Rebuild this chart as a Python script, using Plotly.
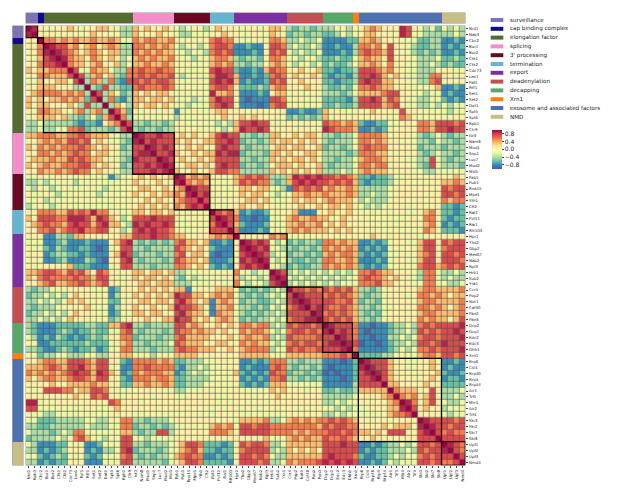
import sys
import plotly.graph_objects as go

genes = ["Nrd1","Nab3","Cbc2","Bur1","Bur2","Ctk1","Ctk2","Cdc73","Leo1","Paf1","Rtf1","Set1","Set2","Dot1",
         "Spt5","Spt6","Rpb1","Ctr9","Ist3","Nam8","Mud1","Snp1","Luc7","Mud2","Msl5","Pab1","Pub1","Rna15",
         "Mpe1","Yth1","Cft2","Rat1","Pcf11","Rai1","Rtt103","Hpr1","Tho2","Gbp2","Mex67","Nab2","Npl3","Hrb1",
         "Sub2","Yra1","Ccr4","Pop2","Not1","Caf40","Pan2","Pan3","Dcp2","Dcp1","Edc2","Edc3","Dhh1","Xrn1",
         "Rrp6","Csl4","Rrp40","Rrp4","Rrp44","Air1","Trf5","Mtr4","Air2","Trf4","Ski3","Ski2","Ski7","Ski8",
         "Upf1","Upf2","Upf3","Nmd4"]

groups = ["surveillance","cap binding complex","elongation factor","splicing","3' processing","termination",
          "export","deadenylation","decapping","Xrn1","exosome and associated factors","NMD"]
group_sizes = [2,1,15,7,6,4,9,6,5,1,14,4]
group_colors = ["#8172b3","#0b0b8c","#556b2f","#f48ec8","#6a0a22","#64b5cd",
                "#7b2fa0","#c44e52","#55a868","#ff7f0e","#4c72b0","#c9bd86"]

# correlation value of each colour level (0 = deep blue ... 9 = deep red)
level_values = [-0.92, -0.78, -0.6, -0.4, -0.15, 0.1, 0.35, 0.55, 0.75, 0.9]

# upper triangle (j > i), one level digit per cell
upper = [
"9 5 545565455665433 6565565 434543 5655 545545665 323323 33453 5 56765559854342 4343",
"5 554555456554533 6555655 433444 5565 544554655 233233 22343 4 56655459844333 3343",
"776767667667644 7677667 545455 7877 544545776 334334 11112 2 66765554442233 1121",
"98867567567633 7767676 434534 7887 112115887 343343 11211 3 77675855432233 1212",
"9876567656633 7676766 443443 7878 111215878 434334 11121 3 78776854432323 1121",
"976657656534 6767667 544344 6776 323325776 443443 22322 4 67665855543334 2232",
"76656755634 6676676 545445 6767 332335676 434434 23223 4 66765755443343 2322",
"8447664337 7877877 454454 8988 211216877 556556 22122 3 88876755443335 5545",
"836746327 7878778 434544 7998 611212787 565565 21221 3 88986565443377 5545",
"37637218 8787887 544454 8989 612112878 556555 22122 3 89886655443378 4545",
"3283322 7877787 445444 7887 522232677 555655 32232 4 77876655544456 1121",
"836423 6565665 454454 9667 511121566 454454 33323 4 66667885544344 1211",
"37213 6656656 444344 7988 510111887 445444 22221 3 88986875443344 2121",
"3653 6566565 443444 7898 511101788 454445 22322 3 88886785443343 4344",
"862 5455455 144544 5665 554554555 112112 64544 5 55655558555445 4344",
"73 4454454 344454 5565 565655545 232323 64554 5 54555457654454 4454",
"8 3323323 454454 4343 688988544 554554 87767 6 21122445557768 8878",
"3233233 545545 4434 698898545 545545 98777 6 11212455557768 8988",
"988988 565655 6898 833233665 565665 33233 4 77776555543234 3233",
"89888 656556 6889 823323656 656565 32333 4 77676554543324 3323",
"9898 556565 5898 832333566 566556 23323 4 78777555542333 2333",
"889 655656 6989 923332665 655665 33332 3 77766545553234 3323",
"98 565565 6888 833233656 566565 33233 4 67776555443384 3233",
"9 556656 5898 823323566 656556 32333 4 77677455543284 3332",
"655655 6887 733333656 565656 33343 4 67666555544334 4444",
"96767 4544 678787333 698989 88787 6 22122344555455 5565",
"7676 5445 687877323 689898 87878 6 21222345545455 6676",
"988 4544 566566443 187878 67667 6 33333455555555 8788",
"89 5454 565665434 466766 76667 6 33433455555455 8878",
"8 4545 556656444 565665 67666 5 34333455545555 7677",
"5445 565565544 556556 56656 5 43434555455455 2212",
"878 612112454 561115 56556 5 45445455445674 2212",
"98 711011445 676676 65565 5 54454544554775 2122",
"8 621112544 667667 56565 5 45544545455674 1212",
"711121454 676766 65656 5 54454454545765 2221",
"55455767 445445 55455 5 55655555554455 5555",
"9898434 232332 77676 6 11212455446885 8788",
"989443 323323 76767 6 12121454546885 7888",
"98344 233232 67677 6 21212445456785 8878",
"9434 322323 77667 6 11121455446885 8887",
"443 232233 76767 6 21212454547886 7878",
"98 343434 34343 4 77876655543774 3343",
"9 434343 43434 4 78776565443774 3433",
"343434 34344 4 77786655544774 4334",
"88787 87878 6 33234555556776 6667",
"9888 78787 6 32334555457767 6566",
"988 88778 6 23324555546776 6667",
"89 87787 6 33234455557767 6567",
"9 78787 6 32324555456776 6667",
"87878 6 33234555557676 6568",
"9888 7 11011233437878 8889",
"898 7 10111233438787 8898",
"98 7 11011334347887 8889",
"9 8 01101233438878 9888",
"7 11111234347787 8889",
"22223344446776 8878",
"9888655445565 1121",
"988655445565 1211",
"98655545556 2112",
"8655545565 1221",
"665555655 2222",
"76665585 3334",
"7675685 3343",
"975685 4334",
"85655 3444",
"5555 4344",
"988 8878",
"98 8788",
"8 7877",
"8888",
"987",
"87",
"8",
"",
]

n = len(genes)
M = [[1.0] * n for _ in range(n)]
for i, s in enumerate(upper):
    s = s.replace(" ", "")
    need = n - 1 - i
    if len(s) != need:
        print(f"row {i} has {len(s)} need {need}", file=sys.stderr)
        s = (s + "5" * need)[:need]
    for k, ch in enumerate(s):
        j = i + 1 + k
        v = level_values[int(ch)]
        M[i][j] = v
        M[j][i] = v

group_of = []
for gi, sz in enumerate(group_sizes):
    group_of += [gi] * sz

# the page has an 8px body margin; positions below are window pixels minus that margin
OFF = 8.0
W, H = 617 - 8, 495 - 8


def px(v):
    return (v - OFF) / W


def py(v):
    return 1 - (v - OFF) / H


hx0, hx1 = 25.7, 465.3
hy0, hy1 = 25.7, 465.3

spectral_r = ["#5e4fa2","#3288bd","#66c2a5","#abdda4","#e6f598","#ffffbf",
              "#fee08b","#fdae61","#f46d43","#d53e4f","#9e0142"]
cscale = [[k / 10, c] for k, c in enumerate(spectral_r)]

ng = len(groups)
gscale = []
for k, c in enumerate(group_colors):
    gscale.append([k / ng, c])
    gscale.append([(k + 1) / ng, c])

idx = list(range(n))
fig = go.Figure()
fig.add_trace(go.Heatmap(
    z=M, x=idx, y=idx, colorscale=cscale, zmin=-1, zmax=1,
    xgap=0.6, ygap=0.6, xaxis="x", yaxis="y",
    colorbar=dict(x=px(491.5), xanchor="left", y=py(149.3), yanchor="middle",
                  len=39, lenmode="pixels", thickness=10, thicknessmode="pixels",
                  tickvals=[-0.8, -0.4, 0, 0.4, 0.8],
                  ticktext=["\u22120.8", "\u22120.4", "0.0", "0.4", "0.8"],
                  tickfont=dict(size=6.0, color="#222"), outlinewidth=0,
                  ticks="outside", ticklen=2, tickwidth=0.6, xpad=0, ypad=0),
))
fig.add_trace(go.Heatmap(z=[group_of], x=idx, y=[0], colorscale=gscale, zmin=-0.5, zmax=ng - 0.5,
                         showscale=False, xaxis="x", yaxis="y2", hoverinfo="skip"))
fig.add_trace(go.Heatmap(z=[[g] for g in group_of], x=[0], y=idx, colorscale=gscale, zmin=-0.5,
                         zmax=ng - 0.5, showscale=False, xaxis="x2", yaxis="y", hoverinfo="skip"))

shapes = []
start = 0
for sz in group_sizes:
    shapes.append(dict(type="rect", xref="x", yref="y", x0=start - 0.5, x1=start + sz - 0.5,
                       y0=start - 0.5, y1=start + sz - 0.5, line=dict(color="black", width=1.2),
                       fillcolor="rgba(0,0,0,0)"))
    start += sz

annotations = []
for k, (g, c) in enumerate(zip(groups, group_colors)):
    yc = 20.0 + 8.8 * k
    shapes.append(dict(type="rect", xref="paper", yref="paper", x0=px(490.7), x1=px(503.3),
                       y0=py(yc + 2.0), y1=py(yc - 2.0), line=dict(width=0), fillcolor=c))
    annotations.append(dict(x=px(507.5), y=py(yc), xref="paper", yref="paper", text=g,
                            showarrow=False, xanchor="left", yanchor="middle",
                            font=dict(size=5.6, color="#222")))

fig.update_layout(
    width=W, height=H, margin=dict(l=0, r=0, t=0, b=0),
    paper_bgcolor="white", plot_bgcolor="#505050",
    font=dict(family="DejaVu Sans", color="#222"),
    xaxis=dict(domain=[px(hx0), px(hx1)], range=[-0.5, n - 0.5], tickmode="array", tickvals=idx,
               ticktext=genes, tickangle=-90, tickfont=dict(size=3.9), ticks="outside", ticklen=2,
               tickwidth=0.4, showgrid=False, zeroline=False, anchor="y", showline=False),
    yaxis=dict(domain=[py(hy1), py(hy0)], range=[n - 0.5, -0.5], tickmode="array",
               tickvals=idx, ticktext=genes, side="right", tickfont=dict(size=3.9), ticks="outside",
               ticklen=2, tickwidth=0.4, showgrid=False, zeroline=False, anchor="x", showline=False),
    yaxis2=dict(domain=[py(23.3), py(12.7)], anchor="x", range=[-0.5, 0.5],
                showticklabels=False, ticks="", showgrid=False, zeroline=False),
    xaxis2=dict(domain=[px(12.5), px(23.3)], anchor="y", range=[-0.5, 0.5],
                showticklabels=False, ticks="", showgrid=False, zeroline=False),
    shapes=shapes, annotations=annotations, showlegend=False,
)

fig.write_html("out.html")
